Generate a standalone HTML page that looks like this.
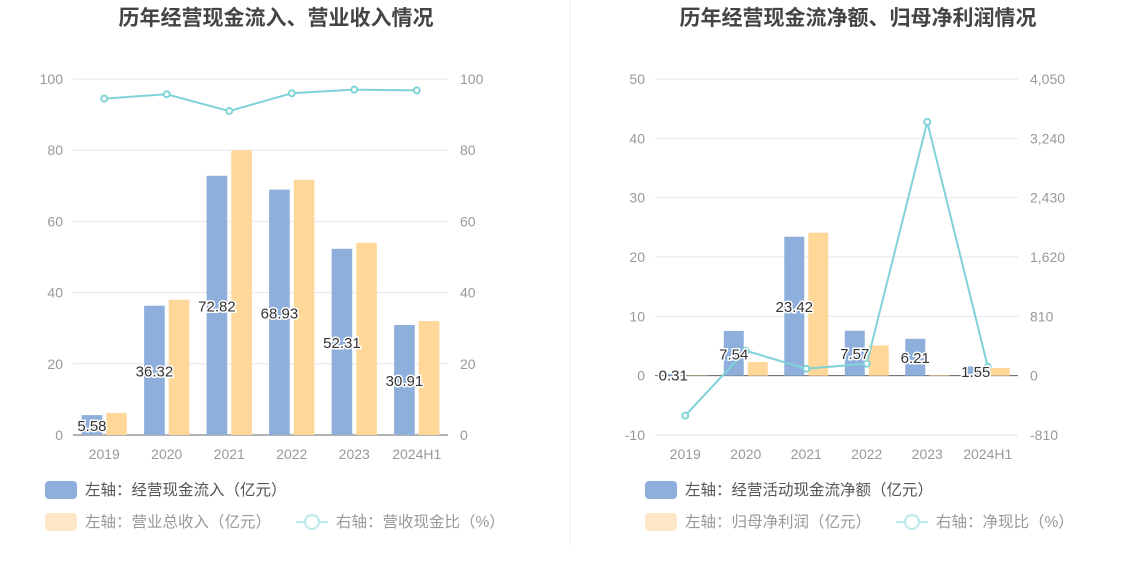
<!DOCTYPE html>
<html><head><meta charset="utf-8"><style>
body{margin:0;background:#fff;font-family:"Liberation Sans","Noto Sans CJK SC",sans-serif;}
svg{display:block}
</style></head><body>
<svg id="c" width="1134" height="582" xmlns="http://www.w3.org/2000/svg"></svg>
<script>
const cats=["2019","2020","2021","2022","2023","2024H1"];
const leftInflow=[5.58,36.32,72.82,68.93,52.31,30.91];
const leftRevenue=[6.2,38,80,71.7,54,32];
const leftRatio=[94.5,95.7,91,96,97,96.8];
const leftTicks=[0,20,40,60,80,100];
const rightNetCash=[0.31,7.54,23.42,7.57,6.21,1.55];
const rightProfit=[0.05,2.3,24.1,5.1,0.1,1.3];
const rightRatio=[-545,341,95,164,3464,123];
const rightLTicks=[-10,0,10,20,30,40,50];
const rightRTicks=["-810","0","810","1,620","2,430","3,240","4,050"];

const S=document.getElementById('c');const NS='http://www.w3.org/2000/svg';
function el(t,a,txt){const e=document.createElementNS(NS,t);for(const k in a)e.setAttribute(k,a[k]);if(txt!==undefined)e.textContent=txt;S.appendChild(e);return e;}

function chart(o){
  const {x0,x1,yTop,yBot,lmin,lmax,rmin,rmax}=o;
  const yL=v=>yBot-(v-lmin)/(lmax-lmin)*(yBot-yTop);
  const yR=v=>yBot-(v-rmin)/(rmax-rmin)*(yBot-yTop);
  const bw=(x1-x0)/cats.length;
  const cx=i=>x0+bw*(i+0.5);
  let t=el('text',{x:o.tx,y:25,'text-anchor':'middle','font-size':21,'font-weight':'bold',fill:'#444'},o.title);
  
  o.lt.forEach((v,i)=>{
    const y=yL(v);
    let g=el('line',{x1:x0,x2:x1,y1:y,y2:y,stroke:'#e3e6ef','stroke-width':1});
    
    let a=el('text',{x:x0-10,y:y+5,'text-anchor':'end','font-size':14,fill:'#999'},v);
    
    let b=el('text',{x:x1+12,y:y+5,'text-anchor':'start','font-size':14,fill:'#999'},o.rtLabels[i]);
    
  });
  const zy=yL(0);
  let ax=el('line',{x1:x0,x2:x1,y1:zy,y2:zy,stroke:'#666','stroke-width':1});
  
  const bwid=bw*0.33;
  cats.forEach((c,i)=>{
    let xl=el('text',{x:cx(i),y:yBot+24,'text-anchor':'middle','font-size':14,fill:'#999'},c);
    
    const v1=o.s1[i],v2=o.s2[i];
    let r1=el('rect',{x:cx(i)-bwid-2,y:Math.min(yL(v1),zy),width:bwid,height:Math.abs(yL(v1)-zy),fill:'#8eaedc'});
    
    let r2=el('rect',{x:cx(i)+2,y:Math.min(yL(v2),zy),width:bwid,height:Math.abs(yL(v2)-zy),fill:'#ffd899'});
    
  });
  let pts=o.s3.map((v,i)=>[cx(i),yR(v)]);
  let pl=el('polyline',{points:pts.map(p=>p.join(',')).join(' '),fill:'none',stroke:'#7fd3d8','stroke-width':2});
  
  pts.forEach(p=>{let c=el('circle',{cx:p[0],cy:p[1],r:3,fill:'#fff',stroke:'#7fd3d8','stroke-width':2});
    });
  cats.forEach((c,i)=>{
    const v=o.s1[i];const y=(yL(v)+zy)/2;
    let l=el('text',{x:cx(i)-bwid/2-2,y:y+6,'text-anchor':'middle','font-size':15,fill:'#333',stroke:'#fff','stroke-width':3,'paint-order':'stroke'},v.toFixed(2));
    
  });
  const lx=o.lx;
  function leg(x,y,type,color,txt,name){
    if(type==='rect'){let r=el('rect',{x:x,y:y-9,width:32,height:18,rx:4,fill:color});}
    else{let l=el('line',{x1:x,x2:x+32,y1:y,y2:y,stroke:'#b8e9ec','stroke-width':2});
      let c=el('circle',{cx:x+16,cy:y,r:7,fill:'#fff',stroke:'#b8e9ec','stroke-width':2});}
    let t=el('text',{x:x+40,y:y+5,'font-size':15.5,fill:type==='rect'&&color==='#8eaedc'?'#555':'#999'},txt);
    
  }
  leg(lx,490,'rect','#8eaedc',o.l1,o.p+'-legend-blue');
  leg(lx,522,'rect','#ffe8c8',o.l2,o.p+'-legend-orange');
  leg(lx+251,522,'line','',o.l3,o.p+'-legend-line');
}
chart({p:'left',title:'历年经营现金流入、营业收入情况',tx:276,lx:45,x0:73,x1:448,yTop:79,yBot:435,lmin:0,lmax:100,rmin:0,rmax:100,
  lt:leftTicks,rtLabels:leftTicks,s1:leftInflow,s2:leftRevenue,s3:leftRatio,
  l1:'左轴：经营现金流入（亿元）',l2:'左轴：营业总收入（亿元）',l3:'右轴：营收现金比（%）'});
chart({p:'right',title:'历年经营现金流净额、归母净利润情况',tx:858,lx:645,x0:655,x1:1018,yTop:79,yBot:435,lmin:-10,lmax:50,rmin:-810,rmax:4050,
  lt:rightLTicks,rtLabels:rightRTicks,s1:rightNetCash,s2:rightProfit,s3:rightRatio,
  l1:'左轴：经营活动现金流净额（亿元）',l2:'左轴：归母净利润（亿元）',l3:'右轴：净现比（%）'});
let d=el('line',{x1:570,x2:570,y1:0,y2:545,stroke:'#eee','stroke-width':1});

</script>
</body></html>
